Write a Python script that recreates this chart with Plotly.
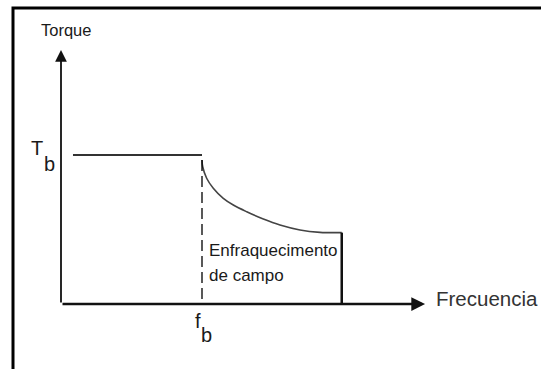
import plotly.graph_objects as go

# ---- data (normalised: f_b = 1, T_b = 1) ----
freq_const = [0.085, 1.0]
torque_const = [1.0, 1.0]

freq_weak = [1.0, 1.005, 1.033, 1.080, 1.151, 1.222, 1.317, 1.435, 1.553, 1.695, 1.837, 1.979, 1.991]
torque_weak = [0.966, 0.921, 0.844, 0.777, 0.709, 0.664, 0.619, 0.570, 0.530, 0.497, 0.481, 0.479, 0.479]

freq_end = [1.991, 1.991]
torque_end = [0.479, 0.0]

freq_base = [1.0, 1.0]
torque_base = [0.966, 0.0]

axis_x_max = 2.582
axis_y_max = 1.705

labels = {"y": "Torque", "x": "Frecuencia", "region": ["Enfraquecimento", "de campo"]}

FONT = "Liberation Sans, Arial, sans-serif"
INK = "#1a1a1a"

W, H = 541, 369

fig = go.Figure()

fig.add_trace(go.Scatter(x=freq_const, y=torque_const, mode="lines",
                         line=dict(color="#333333", width=2), hoverinfo="skip"))
fig.add_trace(go.Scatter(x=freq_weak, y=torque_weak, mode="lines",
                         line=dict(color="#444444", width=1.6, shape="spline"), hoverinfo="skip"))
fig.add_trace(go.Scatter(x=freq_end, y=torque_end, mode="lines",
                         line=dict(color="#111111", width=2.5), hoverinfo="skip"))
fig.add_trace(go.Scatter(x=freq_base, y=torque_base, mode="lines",
                         line=dict(color="#000000", width=1.3, dash="11px,5px"), hoverinfo="skip"))

annotations = [
    # axes with arrow heads
    dict(x=axis_x_max, y=0, ax=0, ay=0, xref="x", yref="y", axref="x", ayref="y",
         text="", showarrow=True, arrowhead=2, arrowsize=1.1, arrowwidth=2.5, arrowcolor="#111111"),
    dict(x=0, y=axis_y_max, ax=0, ay=0, xref="x", yref="y", axref="x", ayref="y",
         text="", showarrow=True, arrowhead=2, arrowsize=1.3, arrowwidth=1.8, arrowcolor="#111111"),
    # texts
    dict(x=0.032, y=1.839, text=labels["y"], showarrow=False, xanchor="center", yanchor="middle",
         font=dict(family=FONT, size=16.5, color=INK)),
    dict(x=2.645, y=0.034, text=labels["x"], showarrow=False, xanchor="left", yanchor="middle",
         font=dict(family=FONT, size=20.5, color="#333333")),
    dict(x=1.035, y=0.356, text=labels["region"][0], showarrow=False, xanchor="left", yanchor="middle",
         font=dict(family=FONT, size=17, color=INK)),
    dict(x=1.035, y=0.191, text=labels["region"][1], showarrow=False, xanchor="left", yanchor="middle",
         font=dict(family=FONT, size=17, color=INK)),
    dict(x=-0.17, y=1.047, text="T", showarrow=False, xanchor="center", yanchor="middle",
         font=dict(family=FONT, size=20, color=INK)),
    dict(x=-0.085, y=0.94, text="b", showarrow=False, xanchor="center", yanchor="middle",
         font=dict(family=FONT, size=20, color=INK)),
    dict(x=0.972, y=-0.114, text="f", showarrow=False, xanchor="center", yanchor="middle",
         font=dict(family=FONT, size=20, color=INK)),
    dict(x=1.032, y=-0.205, text="b", showarrow=False, xanchor="center", yanchor="middle",
         font=dict(family=FONT, size=20, color=INK)),
]

fig.update_layout(
    width=W, height=H,
    margin=dict(l=0, r=0, t=0, b=0),
    paper_bgcolor="white", plot_bgcolor="white",
    showlegend=False,
    xaxis=dict(range=[-61 / 141, (W - 61) / 141], visible=False, fixedrange=True),
    yaxis=dict(range=[(304 - H) / 149, 304 / 149], visible=False, fixedrange=True),
    annotations=annotations,
    shapes=[dict(type="rect", xref="paper", yref="paper",
                 x0=13 / W, x1=1.05, y0=-0.05, y1=1 - 8 / H,
                 line=dict(color="black", width=3), fillcolor="rgba(0,0,0,0)", layer="above")],
)

fig.write_html(
    "out.html",
    config={"displayModeBar": False, "staticPlot": True},
    post_script="document.body.style.margin='0';document.body.style.overflow='hidden';",
)
